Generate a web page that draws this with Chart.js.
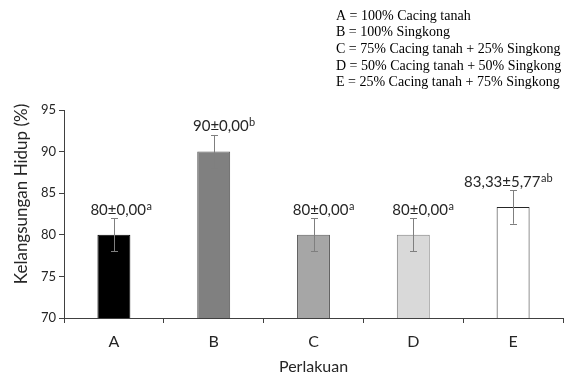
<!DOCTYPE html>
<html>
<head>
<meta charset="utf-8">
<script src="https://cdn.jsdelivr.net/npm/chart.js@4.4.1/dist/chart.umd.min.js"></script>
<style>
  html, body { margin: 0; padding: 0; background: #ffffff; }
  #wrap { width: 581px; height: 376px; position: relative; }
</style>
</head>
<body>
<div id="wrap"><canvas id="chart" width="581" height="376"></canvas></div>
<script>
// Treatments and survival rate (%)
const categories = ['A', 'B', 'C', 'D', 'E'];
const survival = [80, 90, 80, 80, 83.33];
const stdDev = [0, 0, 0, 0, 5.77];
const errorBarHalf = [2, 2, 2, 2, 2];
const letters = ['a', 'b', 'a', 'a', 'ab'];
const yTicks = [70, 75, 80, 85, 90, 95];
const yTitle = 'Kelangsungan Hidup (%)';
const xTitle = 'Perlakuan';
const treatmentKey = [
  'A = 100% Cacing tanah',
  'B = 100% Singkong',
  'C = 75% Cacing tanah + 25% Singkong',
  'D = 50% Cacing tanah + 50% Singkong',
  'E = 25% Cacing tanah + 75% Singkong'
];

const fillColors = ['#000000', '#808080', '#a6a6a6', '#d9d9d9', '#ffffff'];
const edgeColors = ['#000000', '#595959', '#595959', '#7f7f7f', '#262626'];

const comma = (v, digits) => (digits === undefined ? String(v) : v.toFixed(digits)).replace('.', ',');

// Error bars with caps
const errorBarPlugin = {
  id: 'errorBars',
  afterDatasetsDraw(chart) {
    const { ctx, scales: { y } } = chart;
    const meta = chart.getDatasetMeta(0);
    ctx.save();
    ctx.strokeStyle = '#7f7f7f';
    ctx.lineWidth = 1;
    meta.data.forEach((bar, i) => {
      const x = Math.round(bar.x) + 0.5;
      const top = y.getPixelForValue(survival[i] + errorBarHalf[i]);
      const bot = y.getPixelForValue(survival[i] - errorBarHalf[i]);
      ctx.beginPath();
      ctx.moveTo(x, top); ctx.lineTo(x, bot);
      ctx.moveTo(x - 3.5, Math.round(top) + 0.5); ctx.lineTo(x + 3.5, Math.round(top) + 0.5);
      ctx.moveTo(x - 3.5, Math.round(bot) + 0.5); ctx.lineTo(x + 3.5, Math.round(bot) + 0.5);
      ctx.stroke();
    });
    ctx.restore();
  }
};

// Mean ± SD labels with significance letters
const valueLabelPlugin = {
  id: 'valueLabels',
  afterDatasetsDraw(chart, args, opts) {
    const { ctx, scales: { y } } = chart;
    const meta = chart.getDatasetMeta(0);
    ctx.save();
    ctx.fillStyle = '#262626';
    ctx.textAlign = 'left';
    ctx.textBaseline = 'alphabetic';
    meta.data.forEach((bar, i) => {
      const main = comma(survival[i]) + '±' + comma(stdDev[i], 2);
      const top = y.getPixelForValue(survival[i] + errorBarHalf[i]);
      const baseY = top - 3.5;
      const startX = bar.x + opts.startOffset[i];
      ctx.font = '15px Lato';
      ctx.fillText(main, startX, baseY);
      const w = ctx.measureText(main).width;
      ctx.font = '11px Lato';
      ctx.fillText(letters[i], startX + w + 0.5, baseY - 5);
    });
    ctx.restore();
  }
};

// Rotated value-axis title and treatment key
const textPlugin = {
  id: 'chartText',
  afterDraw(chart, args, opts) {
    const { ctx } = chart;
    ctx.save();
    ctx.fillStyle = '#262626';
    ctx.font = '17px Lato';
    ctx.textAlign = 'center';
    ctx.textBaseline = 'alphabetic';
    ctx.translate(opts.yTitleX, opts.yTitleY);
    ctx.rotate(-Math.PI / 2);
    ctx.fillText(yTitle, 0, 0);
    ctx.restore();

    ctx.save();
    ctx.fillStyle = '#000000';
    ctx.font = '14px "Liberation Serif"';
    ctx.textAlign = 'left';
    ctx.textBaseline = 'alphabetic';
    treatmentKey.forEach((line, i) => {
      ctx.fillText(line, 336, 19.5 + i * 16.7);
    });
    ctx.restore();
  }
};

new Chart(document.getElementById('chart'), {
  type: 'bar',
  data: {
    labels: categories,
    datasets: [{
      data: survival,
      backgroundColor: fillColors,
      borderColor: edgeColors,
      borderWidth: 1,
      barPercentage: 0.33,
      categoryPercentage: 1
    }]
  },
  options: {
    responsive: false,
    animation: false,
    devicePixelRatio: 1,
    layout: { padding: { top: 110, right: 18, left: 0, bottom: 0 } },
    plugins: {
      legend: { display: false },
      tooltip: { enabled: false },
      valueLabels: { startOffset: [-23.5, -20.7, -20.7, -21, -49] },
      chartText: { yTitleX: 27, yTitleY: 194 }
    },
    scales: {
      x: {
        grid: {
          display: true,
          offset: true,
          drawOnChartArea: false,
          drawTicks: true,
          tickLength: 5,
          color: '#404040'
        },
        border: { color: '#404040', width: 1 },
        ticks: {
          color: '#262626',
          font: { family: 'Lato', size: 16 },
          padding: 9
        },
        title: {
          display: true,
          text: xTitle,
          color: '#262626',
          font: { family: 'Lato', size: 16 },
          padding: { top: 0, bottom: 0 }
        },
        afterFit(scale) { scale.height = 58; }
      },
      y: {
        min: 70,
        max: 95,
        afterBuildTicks(scale) { scale.ticks = yTicks.map(v => ({ value: v })); },
        grid: {
          display: true,
          drawOnChartArea: false,
          drawTicks: true,
          tickLength: 5,
          color: '#404040'
        },
        border: { color: '#404040', width: 1 },
        ticks: {
          color: '#262626',
          font: { family: 'Lato', size: 13 },
          padding: 3
        },
        title: { display: false },
        afterFit(scale) { scale.width = 64; }
      }
    }
  },
  plugins: [errorBarPlugin, valueLabelPlugin, textPlugin]
});
</script>
</body>
</html>
